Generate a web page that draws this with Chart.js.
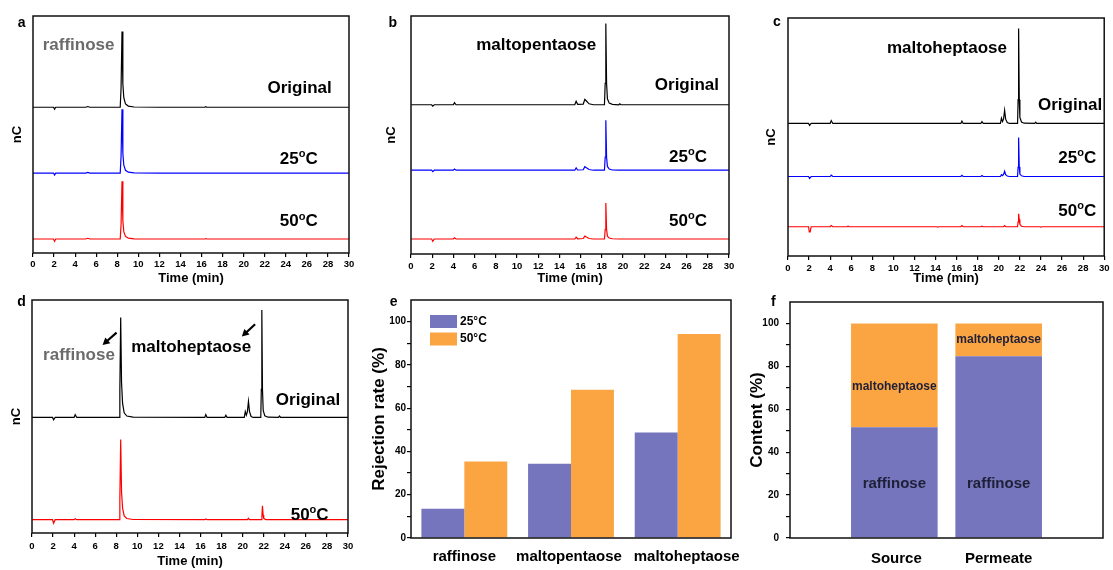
<!DOCTYPE html>
<html><head><meta charset="utf-8">
<script src="https://cdn.jsdelivr.net/npm/chart.js@4.4.1/dist/chart.umd.min.js"></script>
<style>
html,body{margin:0;padding:0;background:#fff;}
body{width:1113px;height:570px;position:relative;overflow:hidden;}
canvas{position:absolute;}
</style></head><body>
<canvas id="ca" style="left:0;top:0" width="370" height="285"></canvas>
<canvas id="cb" style="left:370px;top:0" width="370" height="285"></canvas>
<canvas id="cc" style="left:740px;top:0" width="373" height="285"></canvas>
<canvas id="cd" style="left:0;top:285px" width="370" height="285"></canvas>
<canvas id="ce" style="left:370px;top:285px" width="370" height="285"></canvas>
<canvas id="cf" style="left:740px;top:285px" width="373" height="285"></canvas>
<script>
// ---------- DATA ----------
// Chromatograms: [time (min), signal above own baseline]
const aOriginal = [[0,0],[1.95,0],[2.05,-0.8],[2.15,0],[5.0,0],[5.2,0.3],[5.4,0],[8.28,0],[8.36,8],[8.45,32],[8.53,10],[8.62,4],[8.78,1.4],[9.05,0.5],[9.6,0.1],[12,0],[16.3,0],[16.4,0.2],[16.5,0],[30,0]];
const a25C = [[0,0],[1.95,0],[2.05,-0.8],[2.15,0],[5.0,0],[5.2,0.3],[5.4,0],[8.28,0],[8.36,7],[8.45,27],[8.53,8.5],[8.62,3.4],[8.78,1.2],[9.05,0.4],[9.6,0.1],[12,0],[30,0]];
const a50C = [[0,0],[1.95,0],[2.05,-1.0],[2.15,0],[5.0,0],[5.2,0.3],[5.4,0],[8.28,0],[8.36,6],[8.45,24.4],[8.53,7.7],[8.62,3.1],[8.78,1.1],[9.05,0.4],[9.6,0.1],[16.3,0],[16.4,0.2],[16.5,0],[30,0]];
const aOffsets = [61.5, 33.7, 5.9];

const bOriginal = [[0,0],[1.95,0],[2.05,-0.6],[2.2,0],[4.0,0],[4.1,0.9],[4.25,0],[15.45,0],[15.58,1.5],[15.72,0.2],[16.25,0.3],[16.4,2.3],[16.55,1.6],[16.8,0.4],[17.2,0],[18.25,0],[18.32,9],[18.38,34.1],[18.45,9],[18.53,2.5],[18.7,0.7],[19.0,0.2],[19.6,0],[19.7,0.4],[19.8,0],[30,0]];
const b25C = [[0,0],[1.95,0],[2.05,-0.6],[2.2,0],[4.0,0],[4.1,0.5],[4.25,0],[15.45,0],[15.58,1.0],[15.72,0.1],[16.25,0.2],[16.4,1.5],[16.55,1.0],[16.8,0.3],[17.2,0],[18.25,0],[18.32,5.5],[18.38,21],[18.45,5.5],[18.53,1.6],[18.7,0.5],[19.0,0.1],[19.6,0],[30,0]];
const b50C = [[0,0],[1.95,0],[2.05,-1.0],[2.2,0],[4.0,0],[4.1,0.5],[4.25,0],[15.45,0],[15.58,0.8],[15.72,0.1],[16.25,0.2],[16.4,1.2],[16.55,0.8],[16.8,0.2],[17.2,0],[18.25,0],[18.32,4],[18.38,15.1],[18.45,4],[18.53,1.2],[18.7,0.4],[19.0,0.1],[19.6,0],[30,0]];
const bOffsets = [62.7, 35.2, 6.3];

const cOriginal = [[0,0],[1.95,0],[2.05,-0.8],[2.2,0],[4.0,0],[4.1,1.2],[4.25,0],[16.4,0],[16.5,1.0],[16.62,0],[18.3,0],[18.4,0.8],[18.52,0],[20.15,0],[20.25,2.2],[20.35,0.8],[20.45,1.8],[20.55,5.5],[20.65,1.8],[20.8,0.4],[21.0,0],[21.78,0],[21.83,10],[21.88,39.9],[21.94,10],[22.0,2.5],[22.15,0.6],[22.4,0.1],[23.4,0],[23.5,0.5],[23.6,0],[30,0]];
const c25C = [[0,0],[1.95,0],[2.05,-0.8],[2.2,0],[4.0,0],[4.1,0.6],[4.25,0],[16.4,0],[16.5,0.5],[16.62,0],[18.3,0],[18.4,0.4],[18.52,0],[20.15,0],[20.25,0.8],[20.35,0.4],[20.45,0.9],[20.55,2.2],[20.65,0.8],[20.8,0.2],[21.0,0],[21.78,0],[21.83,4],[21.88,16.4],[21.94,4],[22.0,1],[22.15,0.3],[22.4,0],[30,0]];
const c50C = [[0,0],[1.95,0],[2.02,-2.2],[2.1,-2.2],[2.2,0],[4.0,0],[4.1,0.5],[4.25,0],[5.6,0],[5.7,0.2],[5.8,0],[14.1,0],[14.2,-0.2],[14.3,0],[16.4,0],[16.5,0.5],[16.62,0],[18.3,0],[18.4,0.2],[18.52,0],[20.45,0],[20.55,0.5],[20.65,0],[21.78,0],[21.83,2],[21.88,5.4],[21.94,3],[22.0,1],[22.15,0.2],[22.4,0],[23.9,0],[24.0,-0.2],[24.1,0],[30,0]];
const cOffsets = [55.7, 33.4, 12.3];

const dOriginal = [[0,0],[1.95,0],[2.05,-1.0],[2.2,0],[4.0,0],[4.1,1.2],[4.25,0],[8.26,0],[8.34,12],[8.42,42.9],[8.5,15],[8.6,6],[8.75,2],[9.0,0.6],[9.6,0.1],[16.4,0],[16.5,1.2],[16.62,0],[18.3,0],[18.4,0.9],[18.52,0],[20.15,0],[20.25,2.5],[20.35,1],[20.45,2.5],[20.55,6.9],[20.65,2.5],[20.8,0.4],[21.0,0],[21.72,0],[21.77,12],[21.82,46.1],[21.88,12],[21.95,3],[22.1,0.7],[22.4,0.1],[23.4,0],[23.5,0.6],[23.6,0],[30,0]];
const d50C = [[0,0],[1.95,0],[2.05,-1.5],[2.2,0],[4.0,0],[4.1,0.4],[4.25,0],[8.26,0],[8.34,9],[8.42,34.4],[8.5,12],[8.6,5],[8.75,1.6],[9.0,0.5],[9.6,0.1],[16.4,0],[16.5,0.3],[16.62,0],[20.45,0],[20.55,0.6],[20.65,0],[21.78,0],[21.83,2],[21.88,6.0],[21.94,2],[22.0,0.6],[22.2,0],[30,0]];
const dOffsets = [49.6, 5.7];

// Panel e: rejection rate (%)
const solutes = ['raffinose', 'maltopentaose', 'maltoheptaose'];
const rejection25 = [13.5, 34.3, 48.8];
const rejection50 = [35.4, 68.5, 94.3];

// Panel f: content (%)
const mixtures = ['Source', 'Permeate'];
const raffinoseContent = [51.6, 84.7];
const maltoheptaoseContent = [48.4, 15.3];

// ---------- STYLE ----------
const FONT = '"Liberation Sans", Arial, Helvetica, sans-serif';
Chart.defaults.font.family = FONT;
Chart.defaults.color = '#000';
const PURPLE = '#7575bd';
const ORANGE = '#faa542';
function fnt(size){ return {family: FONT, size: size, weight: 'bold', lineHeight: 1}; }

function drawRich(ctx, parts, x, y, align, size, color){
  ctx.save();
  ctx.fillStyle = color; ctx.textBaseline = 'middle'; ctx.textAlign = 'left';
  const segs = parts.map(p => {
    const sup = p.startsWith('^'); const t = sup ? p.slice(1) : p; const s = sup ? size*0.65 : size;
    ctx.font = 'bold ' + s + 'px ' + FONT;
    return {t, sup, s, w: ctx.measureText(t).width};
  });
  const total = segs.reduce((a,b)=>a+b.w, 0);
  let cx = align === 'right' ? x - total : align === 'center' ? x - total/2 : x;
  for (const g of segs){
    ctx.font = 'bold ' + g.s + 'px ' + FONT;
    ctx.fillText(g.t, cx, g.sup ? y - size*0.3 : y);
    cx += g.w;
  }
  ctx.restore();
}

const notesPlugin = {
  id: 'notes',
  afterDraw(chart, args, opts){
    const {ctx, chartArea: a, scales} = chart;
    ctx.save(); ctx.strokeStyle = '#111'; ctx.lineWidth = 1.5;
    ctx.strokeRect(a.left, a.top, a.right - a.left, a.bottom - a.top); ctx.restore();
    (opts.texts || []).forEach(t => drawRich(ctx, t.parts, scales.x.getPixelForValue(t.x), scales.y.getPixelForValue(t.y), t.align || 'left', t.size, t.color || '#000'));
    (opts.arrows || []).forEach(ar => {
      const x1 = scales.x.getPixelForValue(ar[0]), y1 = scales.y.getPixelForValue(ar[1]);
      const x2 = scales.x.getPixelForValue(ar[2]), y2 = scales.y.getPixelForValue(ar[3]);
      const ang = Math.atan2(y2 - y1, x2 - x1), L = 7, W = 3.8;
      ctx.save(); ctx.strokeStyle = '#000'; ctx.fillStyle = '#000'; ctx.lineWidth = 2.2;
      ctx.beginPath(); ctx.moveTo(x1, y1); ctx.lineTo(x2 - Math.cos(ang)*L*0.8, y2 - Math.sin(ang)*L*0.8); ctx.stroke();
      ctx.beginPath(); ctx.moveTo(x2, y2);
      ctx.lineTo(x2 - Math.cos(ang)*L - Math.sin(ang)*W, y2 - Math.sin(ang)*L + Math.cos(ang)*W);
      ctx.lineTo(x2 - Math.cos(ang)*L + Math.sin(ang)*W, y2 - Math.sin(ang)*L - Math.cos(ang)*W);
      ctx.closePath(); ctx.fill(); ctx.restore();
    });
    if (opts.xLabels){
      const xl = opts.xLabels;
      chart.data.labels.forEach((lab, i) => { if (lab) drawRich(ctx, [lab], scales.x.getPixelForValue(i) + xl.dx[i], a.bottom + xl.dy, 'center', xl.size, '#000'); });
    }
    if (opts.legend){
      const lg = opts.legend;
      chart.data.datasets.forEach((ds, i) => {
        const y = lg.y + i*lg.dy;
        ctx.save(); ctx.fillStyle = ds.backgroundColor; ctx.fillRect(lg.x, y, lg.w, lg.h); ctx.restore();
        drawRich(ctx, [ds.label], lg.x + lg.w + 3, y + lg.h/2, 'left', 12, '#000');
      });
    }
    if (opts.letter) drawRich(ctx, [opts.letter.text], opts.letter.x, opts.letter.y, 'center', 14, '#000');
  }
};

function chromChart(id, traces, offsets, colors, cfg){
  return new Chart(document.getElementById(id), {
    type: 'line',
    data: { datasets: traces.map((tr, i) => ({
      data: tr.map(p => ({x: p[0], y: p[1] + offsets[i]})),
      borderColor: colors[i], borderWidth: 1.2, pointRadius: 0, tension: 0, fill: false
    })) },
    options: {
      responsive: false, animation: false, devicePixelRatio: 1,
      layout: {padding: cfg.pad},
      plugins: {legend: {display: false}, tooltip: {enabled: false}, notes: cfg.notes},
      scales: {
        x: { type: 'linear', min: 0, max: 30,
          grid: {display: true, drawOnChartArea: false, drawTicks: true, tickLength: 4, color: '#000', lineWidth: 1.2},
          border: {display: false},
          ticks: {stepSize: 2, font: fnt(9.5), padding: cfg.tickPad, autoSkip: false, maxRotation: 0, color: '#000'},
          title: {display: true, text: 'Time (min)', font: fnt(13), padding: {top: 0, bottom: cfg.xTitlePad}},
          afterFit(s){ s.height = cfg.xH; } },
        y: { min: 0, max: 100,
          grid: {display: false}, border: {display: false}, ticks: {display: false},
          title: {display: true, text: 'nC', font: fnt(13), padding: {top: cfg.nCpad, bottom: 0}},
          afterFit(s){ s.width = cfg.yW; } }
      }
    },
    plugins: [notesPlugin]
  });
}

const GRAY = '#6b6b6b';
chromChart('ca', [aOriginal, a25C, a50C], aOffsets, ['#000', '#0000ff', '#ff0000'], {
  pad: {left: 0, top: 16, right: 21, bottom: 0}, yW: 33, xH: 32, tickPad: 3, xTitlePad: 0, nCpad: 10.5,
  notes: { letter: {text: 'a', x: 21.7, y: 23},
    texts: [
      {parts: ['raffinose'], x: 0.92, y: 87.7, align: 'left', size: 17, color: GRAY},
      {parts: ['Original'], x: 28.36, y: 69.5, align: 'right', size: 17},
      {parts: ['25', '^o', 'C'], x: 27.03, y: 39.6, align: 'right', size: 17},
      {parts: ['50', '^o', 'C'], x: 27.03, y: 13.2, align: 'right', size: 17}
    ] }
});
chromChart('cb', [bOriginal, b25C, b50C], bOffsets, ['#000', '#0000ff', '#ff0000'], {
  pad: {left: 0, top: 16, right: 11, bottom: 0}, yW: 41, xH: 31, tickPad: 4, xTitlePad: 0, nCpad: 15.2,
  notes: { letter: {text: 'b', x: 22.7, y: 23},
    texts: [
      {parts: ['maltopentaose'], x: 11.81, y: 87.7, align: 'center', size: 17},
      {parts: ['Original'], x: 29.06, y: 70.9, align: 'right', size: 17},
      {parts: ['25', '^o', 'C'], x: 27.93, y: 40.7, align: 'right', size: 17},
      {parts: ['50', '^o', 'C'], x: 27.93, y: 13.8, align: 'right', size: 17}
    ] }
});
chromChart('cc', [cOriginal, c25C, c50C], cOffsets, ['#000', '#0000ff', '#ff0000'], {
  pad: {left: 0, top: 18, right: 8, bottom: 0}, yW: 48, xH: 29, tickPad: 3.5, xTitlePad: 0, nCpad: 25.2,
  notes: { letter: {text: 'c', x: 37, y: 22},
    texts: [
      {parts: ['maltoheptaose'], x: 15.08, y: 87.1, align: 'center', size: 17},
      {parts: ['Original'], x: 29.81, y: 63.2, align: 'right', size: 17},
      {parts: ['25', '^o', 'C'], x: 29.24, y: 41.2, align: 'right', size: 17},
      {parts: ['50', '^o', 'C'], x: 29.24, y: 18.9, align: 'right', size: 17}
    ] }
});
chromChart('cd', [dOriginal, d50C], dOffsets, ['#000', '#ff0000'], {
  pad: {left: 0, top: 15, right: 22, bottom: 0}, yW: 32, xH: 37, tickPad: 4.25, xTitlePad: 2, nCpad: 10.2,
  notes: { letter: {text: 'd', x: 21.5, y: 16.7},
    texts: [
      {parts: ['raffinose'], x: 1.05, y: 76.1, align: 'left', size: 17, color: GRAY},
      {parts: ['maltoheptaose'], x: 15.11, y: 79.6, align: 'center', size: 17},
      {parts: ['Original'], x: 29.25, y: 56.8, align: 'right', size: 17},
      {parts: ['50', '^o', 'C'], x: 28.16, y: 7.8, align: 'right', size: 17}
    ],
    arrows: [[8.03, 86.0, 6.70, 80.7], [21.18, 89.6, 19.92, 84.3]] }
});

new Chart(document.getElementById('ce'), {
  type: 'bar',
  data: { labels: solutes, datasets: [
    {label: '25°C', data: rejection25, backgroundColor: PURPLE, categoryPercentage: 0.805, barPercentage: 1},
    {label: '50°C', data: rejection50, backgroundColor: ORANGE, categoryPercentage: 0.805, barPercentage: 1}
  ] },
  options: {
    responsive: false, animation: false, devicePixelRatio: 1,
    layout: {padding: {left: 0, top: 15, right: 9, bottom: 0}},
    plugins: {legend: {display: false}, tooltip: {enabled: false},
      notes: { letter: {text: 'e', x: 23.7, y: 17.3}, legend: {x: 60, y: 30, w: 27, h: 13, dy: 17.5},
        xLabels: {dx: [0, -2, 9], dy: 18.7, size: 15} } },
    scales: {
      x: { grid: {display: false, drawTicks: false}, border: {display: false},
        ticks: {display: false},
        afterFit(s){ s.height = 32; } },
      y: { min: 0, max: 110,
        grid: {display: true, drawOnChartArea: false, drawTicks: true, tickLength: 4, color: '#000', lineWidth: 1.2},
        border: {display: false},
        ticks: {stepSize: 10, font: fnt(10), padding: 1, color: '#000', callback: v => (v % 20 === 0 ? v : '')},
        afterBuildTicks(s){ s.ticks = s.ticks.filter(t => t.value <= 100); },
        title: {display: true, text: 'Rejection rate (%)', font: fnt(17), padding: {top: 0.5, bottom: 0}},
        afterFit(s){ s.width = 41; } }
    }
  },
  plugins: [notesPlugin]
});

const DARK = '#1f1f38';
new Chart(document.getElementById('cf'), {
  type: 'bar',
  data: { labels: [''].concat(mixtures, ['']), datasets: [
    {label: 'raffinose', data: mixtures.map((m, i) => ({x: m, y: raffinoseContent[i]})), backgroundColor: PURPLE, categoryPercentage: 0.83, barPercentage: 1},
    {label: 'maltoheptaose', data: mixtures.map((m, i) => ({x: m, y: maltoheptaoseContent[i]})), backgroundColor: ORANGE, categoryPercentage: 0.83, barPercentage: 1}
  ] },
  options: {
    responsive: false, animation: false, devicePixelRatio: 1,
    layout: {padding: {left: 0, top: 17, right: 10, bottom: 0}},
    plugins: {legend: {display: false}, tooltip: {enabled: false},
      notes: { letter: {text: 'f', x: 33.3, y: 17.3},
        xLabels: {dx: [0, 2, 0, 0], dy: 21, size: 15},
        texts: [
          {parts: ['raffinose'], x: 1, y: 25.3, align: 'center', size: 15, color: DARK},
          {parts: ['raffinose'], x: 2, y: 25.3, align: 'center', size: 15, color: DARK},
          {parts: ['maltoheptaose'], x: 1, y: 70.5, align: 'center', size: 12, color: DARK},
          {parts: ['maltoheptaose'], x: 2, y: 92.5, align: 'center', size: 12, color: DARK}
        ] } },
    scales: {
      x: { type: 'category', offset: false, stacked: true,
        grid: {display: false, drawTicks: false, offset: false}, border: {display: false},
        ticks: {display: false},
        afterFit(s){ s.height = 32; } },
      y: { min: 0, max: 110, stacked: true,
        grid: {display: true, drawOnChartArea: false, drawTicks: true, tickLength: 4, color: '#000', lineWidth: 1.2},
        border: {display: false},
        ticks: {stepSize: 10, font: fnt(10), padding: 7, color: '#000', callback: v => (v % 20 === 0 ? v : '')},
        afterBuildTicks(s){ s.ticks = s.ticks.filter(t => t.value <= 100); },
        title: {display: true, text: 'Content (%)', font: fnt(17), padding: {top: 8.5, bottom: 0}},
        afterFit(s){ s.width = 50; } }
    }
  },
  plugins: [notesPlugin]
});
</script>
</body></html>
